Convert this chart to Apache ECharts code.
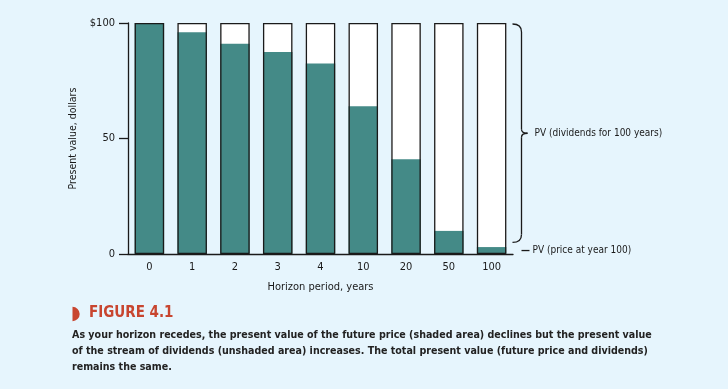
<!DOCTYPE html>
<html><head><meta charset="utf-8">
<script src="https://cdn.jsdelivr.net/npm/echarts@6/dist/echarts.min.js"></script>
<style>html,body{margin:0;padding:0;background:#E6F5FD;}#c{width:728px;height:389px;}</style>
</head><body><div id="c"></div>
<script>
const categories = ['0','1','2','3','4','10','20','50','100'];
const pvPrice = [100, 96, 91, 87.5, 82.5, 64, 41, 10, 3];
const totalPV = [100, 100, 100, 100, 100, 100, 100, 100, 100];
const yTicks = [0, 50, 100];
const captionLines = [
  'As your horizon recedes, the present value of the future price (shaded area) declines but the present value',
  'of the stream of dividends (unshaded area) increases. The total present value (future price and dividends)',
  'remains the same.'
];
const FONT = '"Liberation Sans Narrow","DejaVu Sans Condensed","Liberation Sans",sans-serif';
const TEAL = '#448A87', INK = '#1a1a1a', RED = '#C8452F';

const chart = echarts.init(document.getElementById('c'));
const option = {
  backgroundColor: '#E6F5FD',
  animation: false,
  grid: {left: 128, right: 215, top: 23, bottom: 135, containLabel: false},
  xAxis: {
    type: 'category', data: categories,
    axisLine: {show: true, lineStyle: {color: INK, width: 1.3}},
    axisTick: {show: false},
    axisLabel: {color: INK, fontFamily: FONT, fontSize: 11, margin: 8},
    name: 'Horizon period, years', nameLocation: 'middle', nameGap: 28,
    nameTextStyle: {color: INK, fontFamily: FONT, fontSize: 11}
  },
  yAxis: {
    type: 'value', min: 0, max: 100, interval: 50,
    axisLine: {show: true, lineStyle: {color: INK, width: 1.3}},
    axisTick: {show: true, length: 9, lineStyle: {color: INK, width: 1.3}},
    splitLine: {show: false},
    axisLabel: {color: INK, fontFamily: FONT, fontSize: 11, margin: 13,
      formatter: v => yTicks.indexOf(v) >= 0 ? (v === 100 ? '$100' : String(v)) : ''},
    name: 'Present value, dollars', nameLocation: 'middle', nameGap: 36, nameRotate: 90,
    nameTextStyle: {color: INK, fontFamily: FONT, fontSize: 10.5}
  },
  series: [
    {type: 'bar', data: totalPV, barWidth: 29.5, barGap: '-100%', z: 1,
     itemStyle: {color: '#ffffff'}, silent: true},
    {type: 'bar', data: pvPrice, barWidth: 29.5, barGap: '-100%', z: 2,
     itemStyle: {color: TEAL}},
    {type: 'bar', data: totalPV, barWidth: 29.5, barGap: '-100%', z: 3,
     itemStyle: {color: 'rgba(0,0,0,0)', borderColor: INK, borderWidth: 1.3}, silent: true}
  ]
};
chart.setOption(option);

// annotations positioned from the axes
const lastIdx = categories.length - 1;
const xLast = chart.convertToPixel({xAxisIndex: 0}, categories[lastIdx]);
const xPrev = chart.convertToPixel({xAxisIndex: 0}, categories[lastIdx - 1]);
const half = (xLast - xPrev) / 2;
const x0 = xLast + half - 0.5;
const yTop = chart.convertToPixel({yAxisIndex: 0}, 100) + 1;
const yBot = chart.convertToPixel({yAxisIndex: 0}, 5);
const yMid = (yTop + yBot) / 2;
const yPrice = chart.convertToPixel({yAxisIndex: 0}, 1.5);
const bx = x0 + 9;
const st = {fill: null, stroke: INK, lineWidth: 1.3};

const graphics = [
  {type: 'bezierCurve', shape: {x1: x0, y1: yTop, cpx1: bx, cpy1: yTop, x2: bx, y2: yTop + 8}, style: st},
  {type: 'line', shape: {x1: bx, y1: yTop + 8, x2: bx, y2: yMid - 4}, style: st},
  {type: 'bezierCurve', shape: {x1: bx, y1: yMid - 4, cpx1: bx, cpy1: yMid, x2: bx + 6, y2: yMid}, style: st},
  {type: 'bezierCurve', shape: {x1: bx + 6, y1: yMid, cpx1: bx, cpy1: yMid, x2: bx, y2: yMid + 4}, style: st},
  {type: 'line', shape: {x1: bx, y1: yMid + 4, x2: bx, y2: yBot - 8}, style: st},
  {type: 'bezierCurve', shape: {x1: bx, y1: yBot - 8, cpx1: bx, cpy1: yBot, x2: x0, y2: yBot}, style: st},
  {type: 'text', left: bx + 13, top: yMid - 4.5, style: {text: 'PV (dividends for 100 years)', fill: INK, font: '10px ' + FONT}},
  {type: 'line', shape: {x1: bx, y1: yPrice, x2: bx + 8, y2: yPrice}, style: st},
  {type: 'text', left: bx + 11, top: yPrice - 5, style: {text: 'PV (price at year 100)', fill: INK, font: '10px ' + FONT}},
  {type: 'sector', shape: {cx: 72.5, cy: 314, r: 7.2, startAngle: -Math.PI/2, endAngle: Math.PI/2}, style: {fill: RED}},
  {type: 'text', left: 89, top: 306, style: {text: 'FIGURE 4.1', fill: RED, font: 'bold 15px ' + FONT}}
];
captionLines.forEach((t, i) => {
  graphics.push({type: 'text', left: 72, top: 330 + i * 16, style: {text: t, fill: '#222', font: 'bold 10.6px ' + FONT}});
});
chart.setOption({graphic: graphics});
</script>
</body></html>
